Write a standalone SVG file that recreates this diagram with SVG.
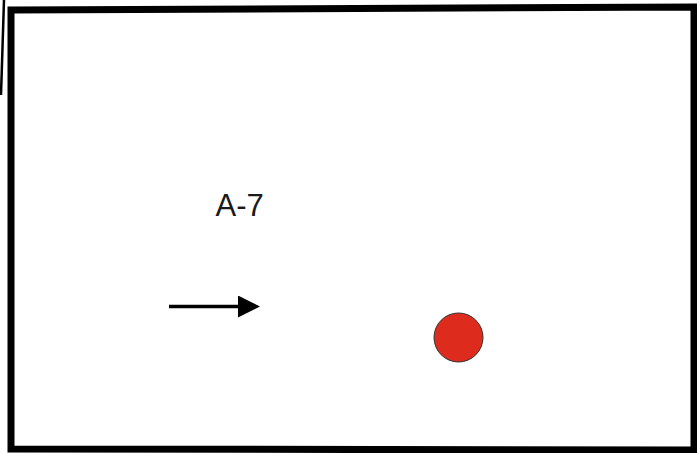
<svg xmlns="http://www.w3.org/2000/svg" width="697" height="453" viewBox="0 0 697 453">
<style>
.frame{fill:none;stroke:#000;stroke-width:7;stroke-linejoin:miter}
.lbl{font-family:"Liberation Sans",Arial,sans-serif;font-size:31px;fill:#1a1a1a}
.conn{stroke:#000;stroke-width:3.5;fill:none}
</style>
<defs>
<marker id="ah" markerUnits="userSpaceOnUse" markerWidth="22" markerHeight="22" refX="0" refY="11" orient="auto">
<path d="M0,0 L22,11 L0,22 Z" fill="#000"/>
</marker>
</defs>
<rect width="697" height="453" fill="#fff"/>
<g id="frame">
<polygon class="frame" points="11,10 694,7 694,450 11,449"/>
<line x1="4" y1="0" x2="1" y2="95" stroke="#000" stroke-width="2.5"/>
</g>
<g id="label-a7">
<text class="lbl" x="215.5" y="216">A-7</text>
</g>
<g id="connectors">
<line class="conn" x1="169" y1="306.5" x2="238" y2="306.5" marker-end="url(#ah)"/>
</g>
<g id="dot">
<circle cx="458.5" cy="337.5" r="24.5" fill="#dd2c1e" stroke="#333" stroke-width="1"/>
</g>
</svg>
